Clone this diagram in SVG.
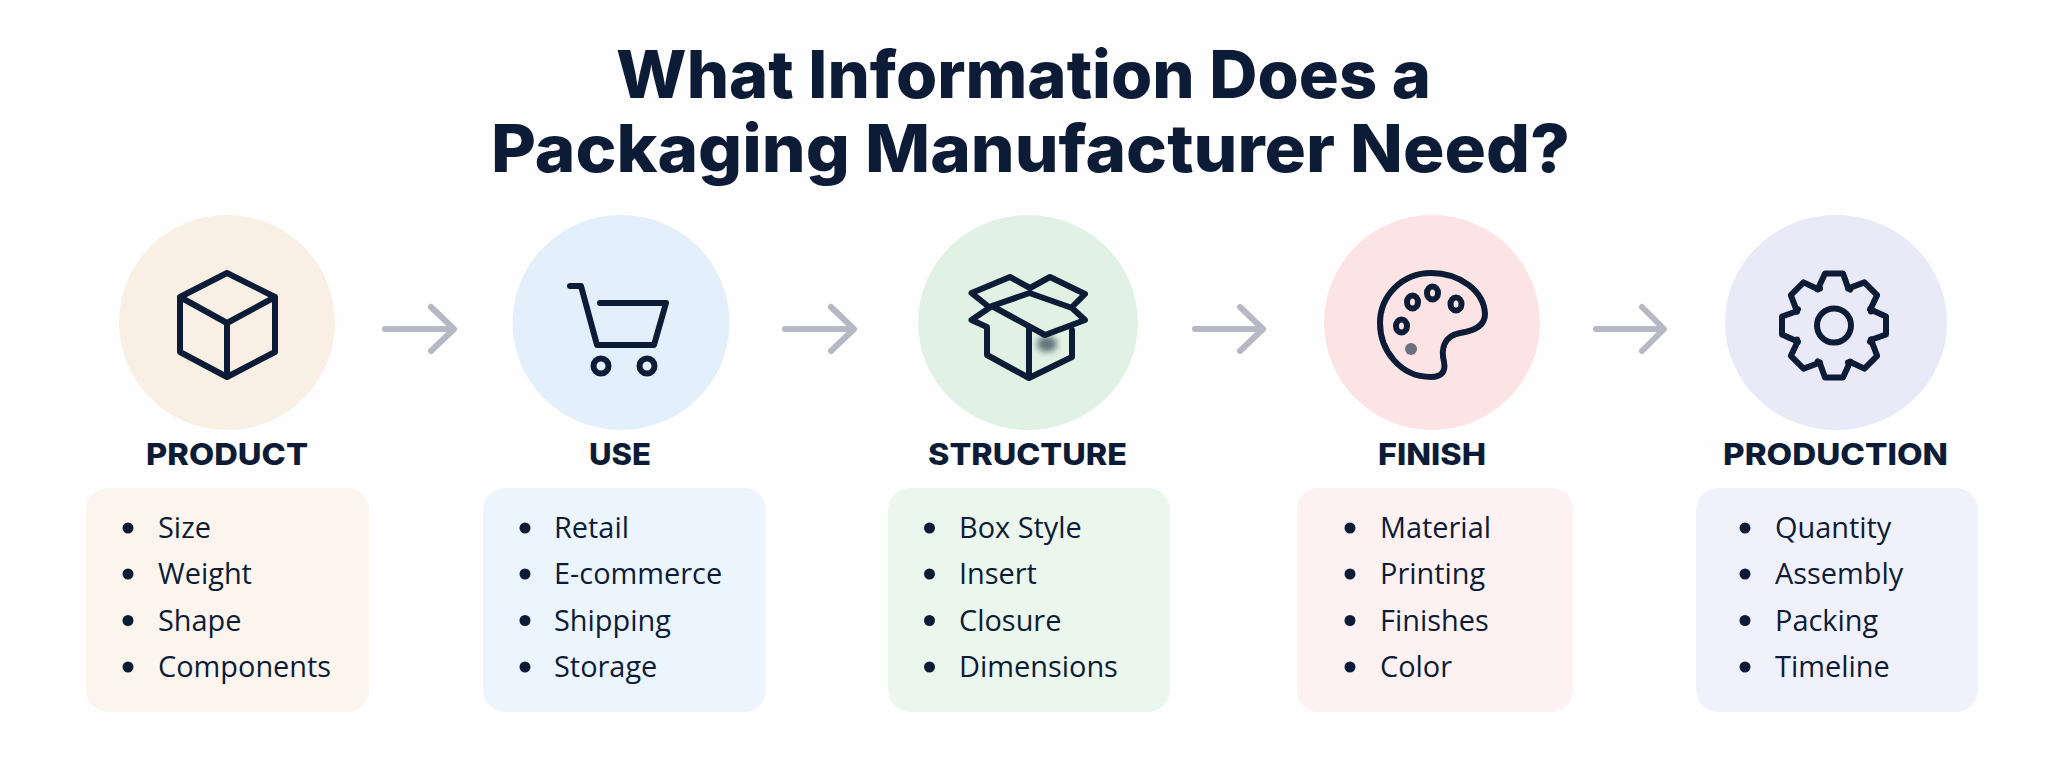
<svg xmlns="http://www.w3.org/2000/svg" width="2058" height="764" viewBox="0 0 2058 764">
<style>
.title{font:800 66px Inter,"Liberation Sans",sans-serif;fill:#0c1c36;text-anchor:middle}
.label{font:800 30px Inter,"Liberation Sans",sans-serif;fill:#0c1c36;text-anchor:middle}
.item{font:400 28.9px "Open Sans","Liberation Sans",sans-serif;fill:#0c1c36}
.icon{fill:none;stroke:#0c1c36;stroke-width:6;stroke-linejoin:round;stroke-linecap:round}
.arrow{fill:none;stroke:#b6b9c3;stroke-width:6;stroke-linecap:round;stroke-linejoin:round}
.bullet{fill:#0c1c36}
</style>
<defs>
<path id="tooth" d="M-16.3-36 L-9-52 L9-52 L14-38 L16.3-36"/>
<filter id="soft" x="-50%" y="-50%" width="200%" height="200%"><feGaussianBlur stdDeviation="3"/></filter>
</defs>
<rect width="2058" height="764" fill="#fefefe"/>
<g id="title">
<text class="title" x="1023.5" y="98" textLength="815" lengthAdjust="spacingAndGlyphs">What Information Does a</text>
<text class="title" x="1030.5" y="172" textLength="1079" lengthAdjust="spacingAndGlyphs">Packaging Manufacturer Need?</text>
</g>
<g id="connectors">
<path class="arrow" d="M385 329H453M431 307L454 329L431 351"/>
<path class="arrow" d="M785 329H853M831 307L854 329L831 351"/>
<path class="arrow" d="M1195 329H1262M1240 307L1263 329L1240 351"/>
<path class="arrow" d="M1596 329H1663M1642 307L1664 329L1642 351"/>
</g>
<g id="product">
<ellipse cx="227" cy="322.5" rx="108" ry="107.5" fill="#f9efe4"/>
<path class="icon" d="M227 273L275 297V352L227 377L180 352V297ZM180 297L227 323L275 297M227 323V377"/>
<text class="label" x="227" y="465" textLength="162" lengthAdjust="spacingAndGlyphs">PRODUCT</text>
<rect x="86" y="488" width="283" height="224" rx="22" fill="#fcf5ee"/>
<circle class="bullet" cx="128" cy="528" r="5.5"/><circle class="bullet" cx="128" cy="574" r="5.5"/><circle class="bullet" cx="128" cy="620.5" r="5.5"/><circle class="bullet" cx="128" cy="667" r="5.5"/>
<text class="item" x="158" y="538">Size</text><text class="item" x="158" y="584">Weight</text><text class="item" x="158" y="630.5">Shape</text><text class="item" x="158" y="676.5">Components</text>
</g>
<g id="use">
<ellipse cx="621" cy="322.5" rx="108.5" ry="107.5" fill="#e3f0fc"/>
<path class="icon" d="M570 286H581L597 345H654L666 303H600"/>
<circle class="icon" cx="601" cy="366" r="7.5"/><circle class="icon" cx="647" cy="366" r="7.5"/>
<text class="label" x="620" y="465" textLength="62" lengthAdjust="spacingAndGlyphs">USE</text>
<rect x="483" y="488" width="283" height="224" rx="22" fill="#ecf5fe"/>
<circle class="bullet" cx="525" cy="528" r="5.5"/><circle class="bullet" cx="525" cy="574" r="5.5"/><circle class="bullet" cx="525" cy="620.5" r="5.5"/><circle class="bullet" cx="525" cy="667" r="5.5"/>
<text class="item" x="554" y="538">Retail</text><text class="item" x="554" y="584">E-commerce</text><text class="item" x="554" y="630.5">Shipping</text><text class="item" x="554" y="676.5">Storage</text>
</g>
<g id="structure">
<ellipse cx="1028" cy="322.5" rx="110" ry="107.5" fill="#e1f2e4"/>
<ellipse cx="1047" cy="344" rx="10" ry="8" fill="#0c1c36" opacity=".6" filter="url(#soft)"/>
<path class="icon" d="M989 307L971.5 293L1010 277L1030 288L1050 277L1085 294L1072 307M1029.5 293L992 306L1045 335L1085 320L1072 308ZM992 306L971.5 320L987 327V355L1029 378L1072 357V330M1029 328V378"/>
<text class="label" x="1027.5" y="465" textLength="199" lengthAdjust="spacingAndGlyphs">STRUCTURE</text>
<rect x="888" y="488" width="282" height="224" rx="22" fill="#ebf6ec"/>
<circle class="bullet" cx="929.5" cy="528" r="5.5"/><circle class="bullet" cx="929.5" cy="574" r="5.5"/><circle class="bullet" cx="929.5" cy="620.5" r="5.5"/><circle class="bullet" cx="929.5" cy="667" r="5.5"/>
<text class="item" x="959" y="538">Box Style</text><text class="item" x="959" y="584">Insert</text><text class="item" x="959" y="630.5">Closure</text><text class="item" x="959" y="676.5">Dimensions</text>
</g>
<g id="finish">
<ellipse cx="1432" cy="322.5" rx="108" ry="107.5" fill="#fce4e4"/>
<path class="icon" d="M1431 273C1402 273 1380 296 1380 323C1380 350 1400 377 1431 377C1441 377 1446 372 1444 362C1441 350 1443 336 1460 333C1474 331 1485 326 1485 314C1484 291 1460 273 1431 273Z"/>
<ellipse class="icon" cx="1401.5" cy="326" rx="5.5" ry="6.5"/><ellipse class="icon" cx="1412.5" cy="302" rx="5.5" ry="6.5"/><ellipse class="icon" cx="1432.5" cy="293" rx="5.5" ry="6.5"/><ellipse class="icon" cx="1456" cy="304" rx="5.5" ry="6.5"/>
<ellipse cx="1411" cy="349" rx="6" ry="6" fill="#6d7080"/>
<text class="label" x="1432" y="465" textLength="108" lengthAdjust="spacingAndGlyphs">FINISH</text>
<rect x="1297" y="488" width="276" height="224" rx="22" fill="#fef1f1"/>
<circle class="bullet" cx="1350" cy="528" r="5.5"/><circle class="bullet" cx="1350" cy="574" r="5.5"/><circle class="bullet" cx="1350" cy="620.5" r="5.5"/><circle class="bullet" cx="1350" cy="667" r="5.5"/>
<text class="item" x="1380" y="538">Material</text><text class="item" x="1380" y="584">Printing</text><text class="item" x="1380" y="630.5">Finishes</text><text class="item" x="1380" y="676.5">Color</text>
</g>
<g id="production">
<ellipse cx="1836" cy="322.5" rx="111" ry="107.5" fill="#e9e9f8"/>
<g class="icon" transform="translate(1834 325.5)">
<use href="#tooth"/><use href="#tooth" transform="rotate(45)"/><use href="#tooth" transform="rotate(90)"/><use href="#tooth" transform="rotate(135)"/><use href="#tooth" transform="rotate(180)"/><use href="#tooth" transform="rotate(225)"/><use href="#tooth" transform="rotate(270)"/><use href="#tooth" transform="rotate(315)"/>
<circle r="17"/>
</g>
<text class="label" x="1835.5" y="465" textLength="225" lengthAdjust="spacingAndGlyphs">PRODUCTION</text>
<rect x="1696" y="488" width="282" height="224" rx="22" fill="#f1f1fb"/>
<circle class="bullet" cx="1745" cy="528" r="5.5"/><circle class="bullet" cx="1745" cy="574" r="5.5"/><circle class="bullet" cx="1745" cy="620.5" r="5.5"/><circle class="bullet" cx="1745" cy="667" r="5.5"/>
<text class="item" x="1775" y="538">Quantity</text><text class="item" x="1775" y="584">Assembly</text><text class="item" x="1775" y="630.5">Packing</text><text class="item" x="1775" y="676.5">Timeline</text>
</g>
</svg>
